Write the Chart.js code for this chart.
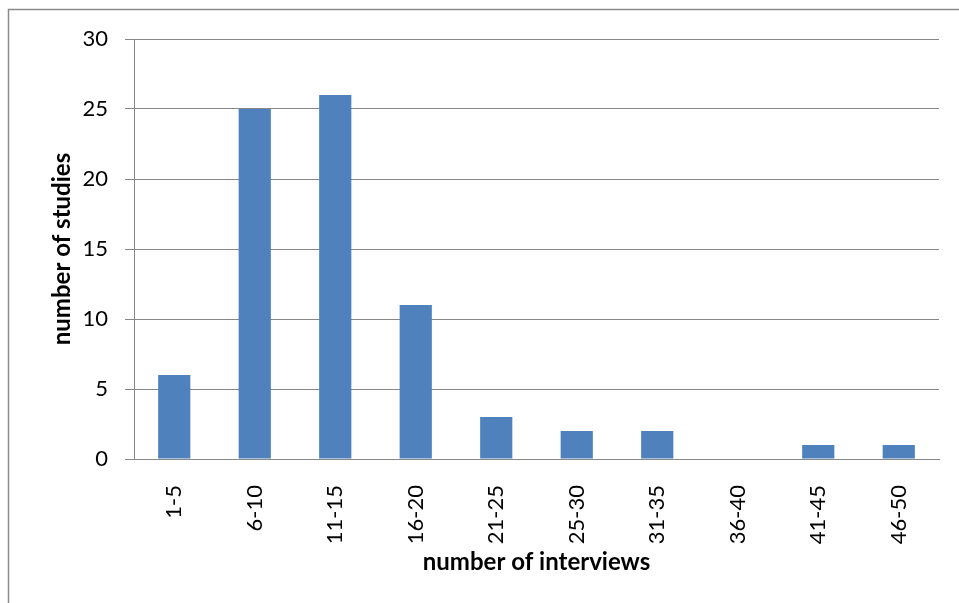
<!DOCTYPE html>
<html>
<head>
<meta charset="utf-8">
<script src="https://cdn.jsdelivr.net/npm/chart.js@4"></script>
<style>
  html, body { margin: 0; padding: 0; background: #fff; }
  #wrap { width: 959px; height: 603px; }
</style>
</head>
<body>
<div id="wrap"><canvas id="myChart" width="959" height="603"></canvas></div>
<script>
// interview count buckets and how many studies fall in each
const categories = ['1-5', '6-10', '11-15', '16-20', '21-25', '25-30', '31-35', '36-40', '41-45', '46-50'];
const studies = [6, 25, 26, 11, 3, 2, 2, 0, 1, 1];
const yTicks = [0, 5, 10, 15, 20, 25, 30];

const FONT = 'Lato, "DejaVu Sans", sans-serif';
const GRID = '#878787';

// thin frame around the whole chart
const frame = {
    id: 'frame',
    beforeDraw(chart) {
        const c = chart.ctx;
        c.save();
        c.strokeStyle = '#8a8a8a';
        c.lineWidth = 1.5;
        c.strokeRect(8.5, 9.5, 1200, 1200);
        c.restore();
    }
};

const ctx = document.getElementById('myChart').getContext('2d');
const myChart = new Chart(ctx, {
    type: 'bar',
    data: {
        labels: categories,
        datasets: [{
            label: 'number of studies',
            data: studies,
            backgroundColor: '#4F81BD',
            borderWidth: 0,
            barPercentage: 0.4,
            categoryPercentage: 1.0
        }]
    },
    options: {
        responsive: false,
        animation: false,
        layout: { padding: { left: 0, right: 20, top: 39, bottom: 0 } },
        plugins: {
            legend: { display: false },
            tooltip: { enabled: false }
        },
        scales: {
            x: {
                grid: { display: false },
                border: { display: true, color: GRID, width: 1 },
                ticks: {
                    color: '#000',
                    font: { family: FONT, size: 22 },
                    minRotation: 90,
                    maxRotation: 90,
                    padding: 18
                },
                title: {
                    display: true,
                    text: 'number of interviews',
                    color: '#000',
                    font: { family: FONT, size: 24, weight: 'bold' },
                    padding: { top: 0, bottom: 26 }
                },
                afterFit(scale) { scale.height = 144; }
            },
            y: {
                min: 0,
                max: 30,
                afterBuildTicks(scale) { scale.ticks = yTicks.map(v => ({ value: v })); },
                grid: { color: GRID, lineWidth: 1, tickLength: 9 },
                border: { display: true, color: GRID, width: 1 },
                ticks: {
                    color: '#000',
                    font: { family: FONT, size: 22 },
                    padding: 17
                },
                title: {
                    display: true,
                    text: 'number of studies',
                    color: '#000',
                    font: { family: FONT, size: 24, weight: 'bold' },
                    padding: { top: 48, bottom: 0 }
                },
                afterFit(scale) { scale.width = 134; }
            }
        }
    },
    plugins: [frame]
});
</script>
</body>
</html>
